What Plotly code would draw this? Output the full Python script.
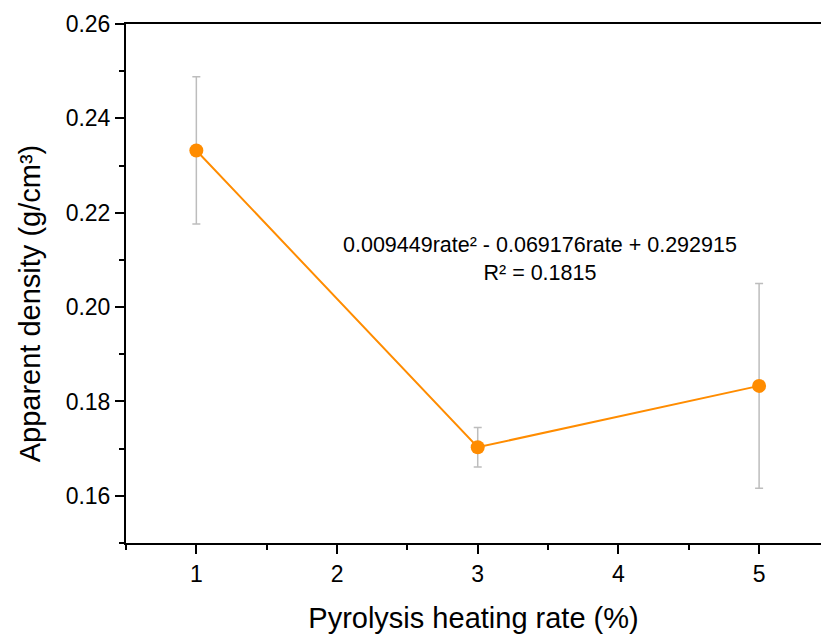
import plotly.graph_objects as go

rates = [1, 3, 5]
density = [0.2332, 0.1703, 0.1833]
density_err = [0.0156, 0.0042, 0.0217]

x_ticks = [1, 2, 3, 4, 5]
y_ticks = [0.16, 0.18, 0.20, 0.22, 0.24, 0.26]
fit_text = "0.009449rate² - 0.069176rate + 0.292915<br>R² = 0.1815"
y_title = "Apparent density (g/cm³)"
x_title = "Pyrolysis heating rate (%)"

FONT = "Liberation Sans, Arial, sans-serif"

fig = go.Figure()
fig.add_trace(go.Scatter(
    x=rates, y=density,
    mode="lines+markers",
    line=dict(color="#FF8C00", width=2),
    marker=dict(color="#FF8C00", size=14),
    error_y=dict(type="data", array=density_err, visible=True,
                 color="#BDBDBD", thickness=1.5, width=4),
    showlegend=False,
))

fig.add_annotation(
    x=3.44, y=0.2102, xref="x", yref="y",
    text=fit_text, showarrow=False, align="center",
    font=dict(family=FONT, size=21.5, color="black"),
)
fig.add_annotation(
    x=-0.138, y=0.462, xref="paper", yref="paper",
    xanchor="center", yanchor="middle", textangle=-90,
    text=y_title, showarrow=False,
    font=dict(family=FONT, size=29, color="black"),
)

fig.update_layout(
    width=821, height=639,
    margin=dict(l=126, r=0, t=24, b=96),
    plot_bgcolor="white", paper_bgcolor="white",
    font=dict(family=FONT, color="black"),
)

fig.update_xaxes(
    range=[0.5, 5.44], tickvals=x_ticks,
    showline=True, linecolor="black", linewidth=2, mirror=True,
    ticks="outside", ticklen=9, tickwidth=2, tickcolor="black",
    minor=dict(ticks="outside", ticklen=5, tickwidth=2, tickcolor="black", dtick=0.5, tick0=0.5),
    showgrid=False, zeroline=False,
    tickfont=dict(family=FONT, size=23),
    title=dict(text=x_title, font=dict(family=FONT, size=29), standoff=22),
)
fig.update_yaxes(
    range=[0.15, 0.26], tickvals=y_ticks, tickformat=".2f",
    showline=True, linecolor="black", linewidth=2,
    ticks="outside", ticklen=9, tickwidth=2, tickcolor="black",
    minor=dict(ticks="outside", ticklen=5, tickwidth=2, tickcolor="black", dtick=0.01, tick0=0.15),
    showgrid=False, zeroline=False,
    tickfont=dict(family=FONT, size=23),
)

fig.write_html(
    "out.html",
    config={"displayModeBar": False},
    post_script="document.body.style.margin='0';document.body.style.overflow='hidden';",
)
